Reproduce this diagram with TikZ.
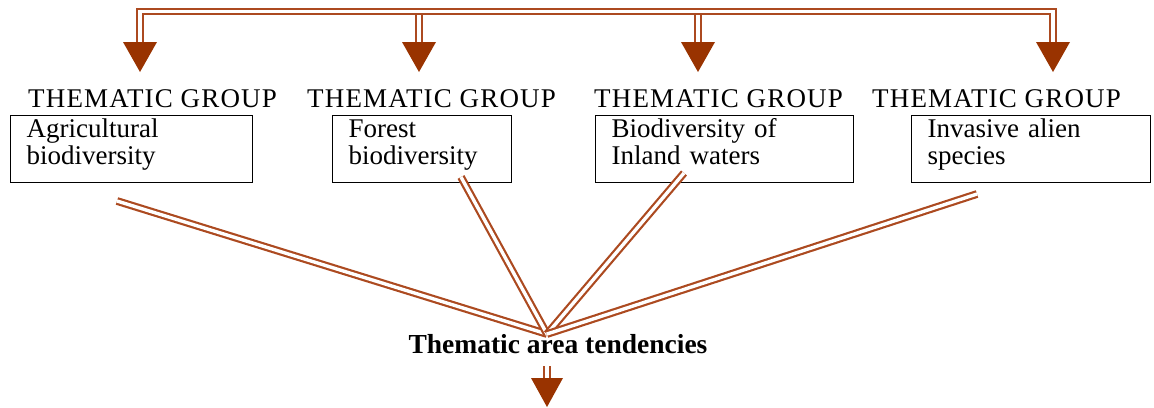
\documentclass[tikz,border=0pt]{standalone}
\usepackage{fontspec}
\setmainfont{Liberation Serif}
\newfontfamily\grpfont[LetterSpace=4.3]{Liberation Serif}
\definecolor{brnline}{RGB}{172,74,32}
\definecolor{brnhead}{RGB}{153,51,0}
\tikzset{
  dbl/.style={draw=brnline, line width=2.2pt, double=white, double distance=3.4pt},
  headtri/.pic={\fill[brnhead] (-17,0) -- (17,0) -- (0,30) -- cycle;},
  grp/.style={font=\grpfont\fontsize{27}{27}\selectfont, inner sep=0pt, anchor=base west},
  gbox/.style={draw=black, line width=1.4pt, align=left, anchor=north west,
    font=\fontsize{27}{26.5}\selectfont, inner xsep=16pt, inner ysep=2pt,
    text height=20pt, text depth=43pt},
}
\begin{document}
\begin{tikzpicture}[x=1pt,y=-1pt]
\useasboundingbox (0,0) rectangle (1154,407);
% top bus
\coordinate (a1) at (140,44);
\coordinate (a2) at (419,44);
\coordinate (a3) at (698,44);
\coordinate (a4) at (1053,44);
\coordinate (k1) at (140,11.5);
\coordinate (k4) at (1053,11.5);
\coordinate (k2) at (419,11.5);
\coordinate (k3) at (698,11.5);
\draw[dbl] (k2) -- (a2);
\draw[dbl] (k3) -- (a3);
\draw[dbl] (a1) -- (k1) -- (k4) -- (a4);
\pic at (140,42) {headtri};
\pic at (419,42) {headtri};
\pic at (698,42) {headtri};
\pic at (1053,42) {headtri};
% group labels
\node[grp] (g1) at (28,107) {THEMATIC GROUP};
\node[grp] (g2) at (307,107) {THEMATIC GROUP};
\node[grp] (g3) at (594,107) {THEMATIC GROUP};
\node[grp] (g4) at (872,107) {THEMATIC GROUP};
% boxes
\node[gbox, text width=210pt] (b1) at (10,115) {Agricultural\\biodiversity};
\node[gbox, text width=147pt] (b2) at (332,115) {Forest\\biodiversity};
\node[gbox, text width=226pt] (b3) at (595,115) {Biodiversity of\\Inland waters};
\node[gbox, text width=207pt] (b4) at (911,115) {Invasive alien\\species};
% converging lines
\coordinate (c) at (547,334);
\coordinate (l1) at (117,201);
\coordinate (l2) at (461,177);
\coordinate (l3) at (684,173);
\coordinate (l4) at (977,194);
\draw[dbl] (l1) -- (c);
\draw[dbl] (l2) -- (c);
\draw[dbl] (l3) -- (c);
\draw[dbl] (l4) -- (c);
% result
\node[font=\fontsize{27.5}{27.5}\selectfont\bfseries, inner sep=0pt, anchor=base] (t) at (558,353) {Thematic area tendencies};
\coordinate (o1) at (547,366);
\coordinate (o2) at (547,380);
\draw[dbl] (o1) -- (o2);
\fill[brnhead] (531,378) -- (563,378) -- (547,407) -- cycle;
\end{tikzpicture}
\end{document}
